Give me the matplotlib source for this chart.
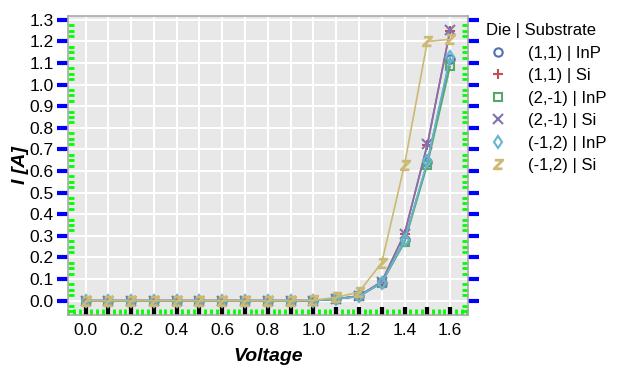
import numpy as np
import matplotlib.pyplot as plt
from matplotlib.lines import Line2D
from matplotlib.ticker import MultipleLocator, AutoMinorLocator

plt.rcParams['font.family'] = ['Liberation Sans', 'DejaVu Sans']

# Spannung
voltage = [0.0, 0.1, 0.2, 0.3, 0.4, 0.5, 0.6, 0.7, 0.8, 0.9, 1.0, 1.1, 1.2, 1.3, 1.4, 1.5, 1.6]

# Strom je Die | Substrat
i_11_inp = [0, 0, 0, 0, 0, 0, 0, 0, 0, 0, 0, 0.008, 0.02, 0.083, 0.28, 0.64, 1.12]
i_11_si = [0, 0, 0, 0, 0, 0, 0, 0, 0, 0, 0, 0.008, 0.022, 0.088, 0.31, 0.72, 1.25]
i_2m1_inp = [0, 0, 0, 0, 0, 0, 0, 0, 0, 0, 0, 0.008, 0.02, 0.082, 0.27, 0.63, 1.085]
i_2m1_si = [0, 0, 0, 0, 0, 0, 0, 0, 0, 0, 0, 0.008, 0.022, 0.088, 0.31, 0.725, 1.255]
i_m12_inp = [0, 0, 0, 0, 0, 0, 0, 0, 0, 0, 0, 0.008, 0.02, 0.083, 0.28, 0.645, 1.13]
i_m12_si = [0, 0, 0, 0, 0, 0, 0, 0, 0, 0, 0.002, 0.015, 0.04, 0.176, 0.63, 1.20, 1.21]

labels = ['(1,1) | InP', '(1,1) | Si', '(2,-1) | InP', '(2,-1) | Si', '(-1,2) | InP', '(-1,2) | Si']
series = [i_11_inp, i_11_si, i_2m1_inp, i_2m1_si, i_m12_inp, i_m12_si]
colors = ['#4C72B0', '#C44E52', '#55A868', '#8172B2', '#64B5CD', '#CCB974']
markers = ['o', '+', 's', 'x', 'd', r'$\mathit{Z}$']

fig = plt.figure(figsize=(6.25, 3.76), dpi=100)
ax = fig.add_axes([0.108, 0.163, 0.641, 0.795])
ax.set_facecolor('#e8e8e8')

handles = []
for y, lab, c, m in zip(series, labels, colors, markers):
    if m in ['o', 's', 'd']:
        kw = dict(marker=m, ms=6, mfc='none', mew=1.5)
    elif m.startswith('$'):
        kw = dict(marker=m, ms=7, mew=1.2)
    else:
        kw = dict(marker=m, ms=7, mew=1.5)
    ax.plot(voltage, y, color=c, lw=1.2, **kw)
    handles.append(Line2D([], [], ls='none', color=c, label=lab, **kw))

ax.set_xlim(-0.079, 1.679)
ax.set_ylim(-0.065, 1.319)

# Gitter alle 0.1, Beschriftung x nur alle 0.2
ax.xaxis.set_major_locator(MultipleLocator(0.1))
ax.yaxis.set_major_locator(MultipleLocator(0.1))
ax.xaxis.set_minor_locator(AutoMinorLocator(4))
ax.yaxis.set_minor_locator(AutoMinorLocator(4))
ax.set_xticklabels(['' if round(t * 10) % 2 else f'{t:.1f}' for t in ax.get_xticks()])
ax.grid(which='major', color='white', lw=1.5)
ax.set_axisbelow(True)

ax.tick_params(axis='x', which='major', direction='in', color='black', length=6, width=3, labelsize=12.5, pad=6)
ax.tick_params(axis='x', which='minor', direction='in', color='#00ff00', length=4, width=2)
ax.tick_params(axis='y', which='major', direction='out', color='blue', length=8, width=3, labelsize=12.5,
               right=True, pad=2)
ax.tick_params(axis='y', which='minor', direction='in', color='#00ff00', length=4, width=2, right=True)
for s in ax.spines.values():
    s.set_color('#aaaaaa')
    s.set_linewidth(1.2)

ax.set_xlabel('Voltage', fontsize=14, fontweight='bold', fontstyle='italic', labelpad=7)
ax.set_ylabel('I [A]', fontsize=14, fontweight='bold', fontstyle='italic', labelpad=0)

ax.legend(handles=handles, title='Die | Substrate', loc='upper left', bbox_to_anchor=(1.008, 1.025),
          frameon=False, fontsize=12, title_fontsize=12, alignment='left', labelspacing=0.45,
          handlelength=1.45, handletextpad=1.05)

plt.savefig('out.png')
